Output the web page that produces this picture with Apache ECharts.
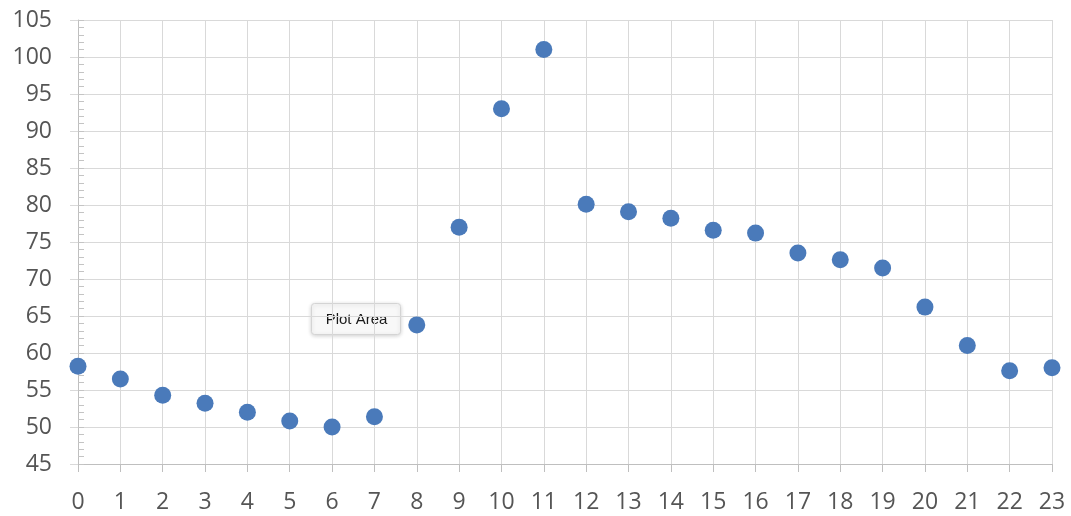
<!DOCTYPE html>
<html><head><meta charset="utf-8">
<script src="https://cdn.jsdelivr.net/npm/echarts@6/dist/echarts.min.js"></script>
<style>html,body{margin:0;padding:0;background:#fff}#c{width:1071px;height:516px}</style>
</head><body><div id="c"></div>
<script>
const hours = [0,1,2,3,4,5,6,7,8,9,10,11,12,13,14,15,16,17,18,19,20,21,22,23];
const values = [58.2,56.5,54.3,53.2,52.0,50.8,50.0,51.4,63.8,77.0,93.0,101.0,80.1,79.1,78.2,76.6,76.2,73.5,72.6,71.5,66.2,61.0,57.6,58.0];
const yMin = 45, yMax = 105, yStep = 5, yMinorStep = 1;
const xMin = 0, xMax = 23, xStep = 1;
const tooltipLabel = 'Plot Area';

const font = '"Open Sans", "Liberation Sans", sans-serif';
const chart = echarts.init(document.getElementById('c'), null, {renderer: 'canvas'});
chart.setOption({
  animation: false,
  grid: {left: 78, right: 19, top: 20, bottom: 52, containLabel: false},
  xAxis: {
    type: 'value', min: xMin, max: xMax, interval: xStep,
    axisLine: {show: true, lineStyle: {color: '#bfbfbf', width: 1}},
    axisTick: {show: true, length: 8, lineStyle: {color: '#bfbfbf'}},
    axisLabel: {color: '#555555', fontSize: 23, fontFamily: font, margin: 27},
    splitLine: {show: true, lineStyle: {color: '#d9d9d9', width: 1}}
  },
  yAxis: [{
    type: 'value', min: yMin, max: yMax, interval: yStep,
    axisLine: {show: true, lineStyle: {color: '#bfbfbf', width: 1}},
    axisTick: {show: true, length: 8, lineStyle: {color: '#d9d9d9'}},
    axisLabel: {color: '#555555', fontSize: 23, fontFamily: font, margin: 26, padding: [5, 0, 0, 0]},
    splitLine: {show: true, lineStyle: {color: '#d9d9d9', width: 1}}
  }, {
    type: 'value', min: yMin, max: yMax, interval: yMinorStep, position: 'left', offset: 0,
    axisLine: {show: false},
    axisTick: {show: true, inside: true, length: 6, lineStyle: {color: '#c4c4c4'}},
    axisLabel: {show: false},
    splitLine: {show: false}
  }],
  series: [{
    type: 'scatter',
    data: hours.map((h, i) => [h, values[i]]),
    symbol: 'circle', symbolSize: 17,
    itemStyle: {color: '#4a7aba', opacity: 1}
  }],
  graphic: [{
    type: 'group', left: 311, top: 303,
    children: [{
      type: 'rect', shape: {x: 0, y: 0, width: 89, height: 31, r: 3},
      style: {fill: '#f8f8f8', stroke: '#d4d4d4', lineWidth: 1, shadowBlur: 4, shadowColor: 'rgba(0,0,0,0.18)', shadowOffsetY: 1}
    }, {
      type: 'text', x: 45, y: 16,
      style: {text: tooltipLabel, fill: '#1a1a1a', font: '15px "Liberation Sans", sans-serif', align: 'center', verticalAlign: 'middle'}
    }]
  }]
});
</script></body></html>
